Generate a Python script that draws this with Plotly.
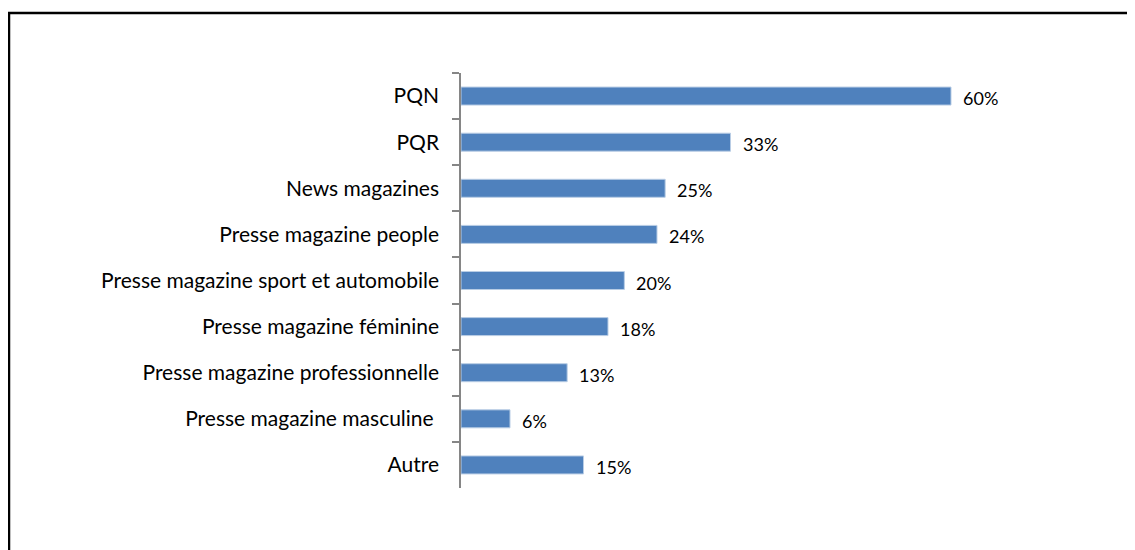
import plotly.graph_objects as go

categories = ["PQN", "PQR", "News magazines", "Presse magazine people",
              "Presse magazine sport et automobile", "Presse magazine féminine",
              "Presse magazine professionnelle", "Presse magazine masculine ", "Autre"]
values = [60, 33, 25, 24, 20, 18, 13, 6, 15]
labels = [f"{v}%" for v in values]

FONT = "Lato"
OFF = 8  # page body margin
W, H = 1135 - OFF, 550 - OFF
L, T = 461 - OFF, 73 - OFF
R = W - (1100 - OFF)
B = H - (488 - OFF)
pw, ph = W - L - R, H - T - B
px_per_unit = 490 / 60
xmax = pw / px_per_unit

fig = go.Figure()
fig.add_trace(go.Bar(
    x=values, y=categories, orientation="h",
    marker=dict(color="#4F81BD", line=dict(color="#B9CDE5", width=1)),
    hoverinfo="skip",
))
for v, c, t in zip(values, categories, labels):
    fig.add_annotation(x=v, y=c, text=t, showarrow=False, xanchor="left",
                       xshift=10, yshift=-2, font=dict(family=FONT, size=18, color="#000"))

def px2paper_x(p):
    return (p - OFF - L) / pw

def px2paper_y(p):
    return (H - B - (p - OFF)) / ph

fig.add_shape(type="rect", xref="paper", yref="paper",
              x0=px2paper_x(9), x1=px2paper_x(1160),
              y0=px2paper_y(580), y1=px2paper_y(13),
              line=dict(color="black", width=2.5), fillcolor="rgba(0,0,0,0)")

fig.update_layout(
    width=W, height=H,
    margin=dict(l=L, r=R, t=T, b=B),
    paper_bgcolor="white", plot_bgcolor="white",
    bargap=0.61, showlegend=False,
    font=dict(family=FONT, size=21, color="#000"),
)
fig.update_xaxes(range=[0, xmax], visible=False, showgrid=False, zeroline=False)
fig.update_yaxes(autorange="reversed", showline=True, linecolor="#868686", linewidth=1.5,
                 ticks="outside", ticklen=7, tickcolor="#868686", tickwidth=1.5,
                 tickson="boundaries", showgrid=False, ticklabelstandoff=16,
                 tickfont=dict(family=FONT, size=21, color="#000"))

fig.write_html("out.html")
